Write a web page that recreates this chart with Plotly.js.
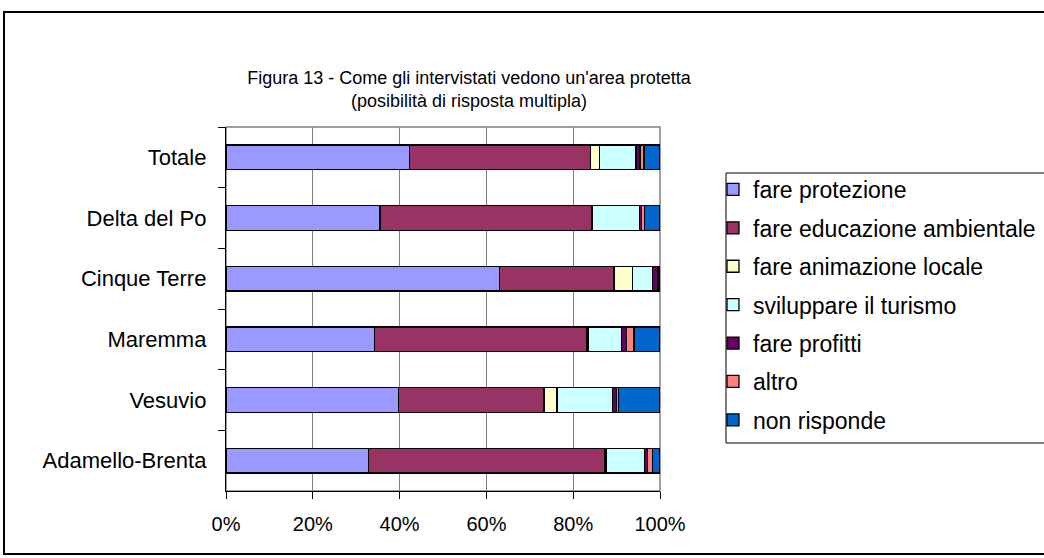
<!DOCTYPE html>
<html>
<head>
<meta charset="utf-8">
<script src="https://cdn.plot.ly/plotly-3.0.1.min.js"></script>
<style>html,body{margin:0;padding:0;background:#fff;}#chart{width:1044px;height:558px;}</style>
</head>
<body>
<div id="chart"></div>
<script>
var categories = ['Totale', 'Delta del Po', 'Cinque Terre', 'Maremma', 'Vesuvio', 'Adamello-Brenta'];
var seriesNames = ['fare protezione', 'fare educazione ambientale', 'fare animazione locale', 'sviluppare il turismo', 'fare profitti', 'altro', 'non risponde'];
var protezione = [42.2, 35.5, 63.0, 34.2, 39.7, 32.9];
var educazione = [41.8, 48.7, 26.4, 49.0, 33.6, 54.4];
var animazione = [2.1, 0.3, 4.3, 0.3, 3.0, 0.4];
var turismo    = [8.4, 10.7, 4.6, 7.6, 12.7, 8.8];
var profitti   = [0.9, 0.6, 1.1, 1.2, 1.0, 0.6];
var altro      = [0.9, 0.7, 0.3, 1.7, 0.5, 1.1];
var nonRisponde = [3.7, 3.5, 0.3, 6.0, 9.5, 1.8];
var xTickVals = [0, 20, 40, 60, 80, 100];
var xTickText = ['0%', '20%', '40%', '60%', '80%', '100%'];

var seriesValues = [protezione, educazione, animazione, turismo, profitti, altro, nonRisponde];
var colors = ['#9999FF', '#993366', '#FFFFCC', '#CCFFFF', '#660066', '#FF8080', '#0066CC'];

var FONT = 'Liberation Sans, Arial, sans-serif';

var traces = seriesValues.map(function (vals, i) {
  return {
    type: 'bar',
    orientation: 'h',
    name: seriesNames[i],
    y: categories,
    x: vals,
    legendgroup: 'g' + i,
    marker: { color: colors[i], line: { color: '#000000', width: 1.3 } },
    hoverinfo: 'name+x'
  };
});

// plot area: x 226..660, y 127..491
var L = 226, R = 660, T = 127, B = 491;
var W = R - L, H = B - T;
function px(x) { return (x - L) / W; }
function py(y) { return (B - y) / H; }

var layout = {
  width: 1044,
  height: 558,
  paper_bgcolor: '#ffffff',
  plot_bgcolor: '#ffffff',
  font: { family: FONT, size: 18, color: '#000000' },
  margin: { l: L, r: 1044 - R, t: T, b: 558 - B, pad: 0, autoexpand: false },
  barmode: 'stack',
  bargap: 0.59,
  showlegend: true,
  title: {
    text: "Figura 13 - Come gli intervistati vedono un'area protetta<br>(posibilità di risposta multipla)",
    font: { family: FONT, size: 18, color: '#000000' },
    xref: 'paper',
    x: px(469),
    xanchor: 'center',
    yref: 'container',
    y: 1 - 84 / 558,
    yanchor: 'top'
  },
  xaxis: {
    range: [0, 100],
    tickvals: xTickVals,
    ticktext: xTickText,
    showgrid: true,
    gridcolor: '#808080',
    gridwidth: 1,
    zeroline: false,
    showline: true,
    linecolor: '#000000',
    linewidth: 1.3,
    ticks: 'outside',
    ticklen: 7,
    tickcolor: '#000000',
    tickwidth: 1.3,
    ticklabelstandoff: 8,
    tickfont: { family: FONT, size: 20, color: '#000000' },
    automargin: false,
    fixedrange: true
  },
  yaxis: {
    type: 'category',
    autorange: 'reversed',
    showgrid: false,
    zeroline: false,
    showline: true,
    linecolor: '#000000',
    linewidth: 1.3,
    ticks: 'outside',
    tickson: 'boundaries',
    ticklen: 7,
    tickcolor: '#000000',
    tickwidth: 1.3,
    ticklabelstandoff: 14,
    tickfont: { family: FONT, size: 22, color: '#000000' },
    automargin: false,
    fixedrange: true
  },
  legend: {
    x: px(713),
    xanchor: 'left',
    y: py(168),
    yanchor: 'top',
    bgcolor: 'rgba(0,0,0,0)',
    borderwidth: 0,
    font: { family: FONT, size: 23, color: '#000000' },
    traceorder: 'grouped',
    tracegroupgap: 5.5,
    itemwidth: 30,
    itemclick: false,
    itemdoubleclick: false
  },
  shapes: [
    {
      type: 'rect', xref: 'paper', yref: 'paper',
      x0: 0, x1: 1, y0: 0, y1: 1,
      line: { color: '#808080', width: 1.5 },
      fillcolor: 'rgba(0,0,0,0)',
      layer: 'below'
    },
    {
      type: 'rect', xref: 'paper', yref: 'paper',
      x0: px(726), x1: px(1100), y0: py(443), y1: py(173),
      line: { color: '#000000', width: 1 },
      fillcolor: 'rgba(0,0,0,0)',
      layer: 'above'
    },
    {
      type: 'rect', xref: 'paper', yref: 'paper',
      x0: px(4), x1: px(1100), y0: py(554), y1: py(12),
      line: { color: '#000000', width: 2 },
      fillcolor: 'rgba(0,0,0,0)',
      layer: 'above'
    }
  ]
};

Plotly.newPlot('chart', traces, layout, { displayModeBar: false, staticPlot: false });
</script>
</body>
</html>
